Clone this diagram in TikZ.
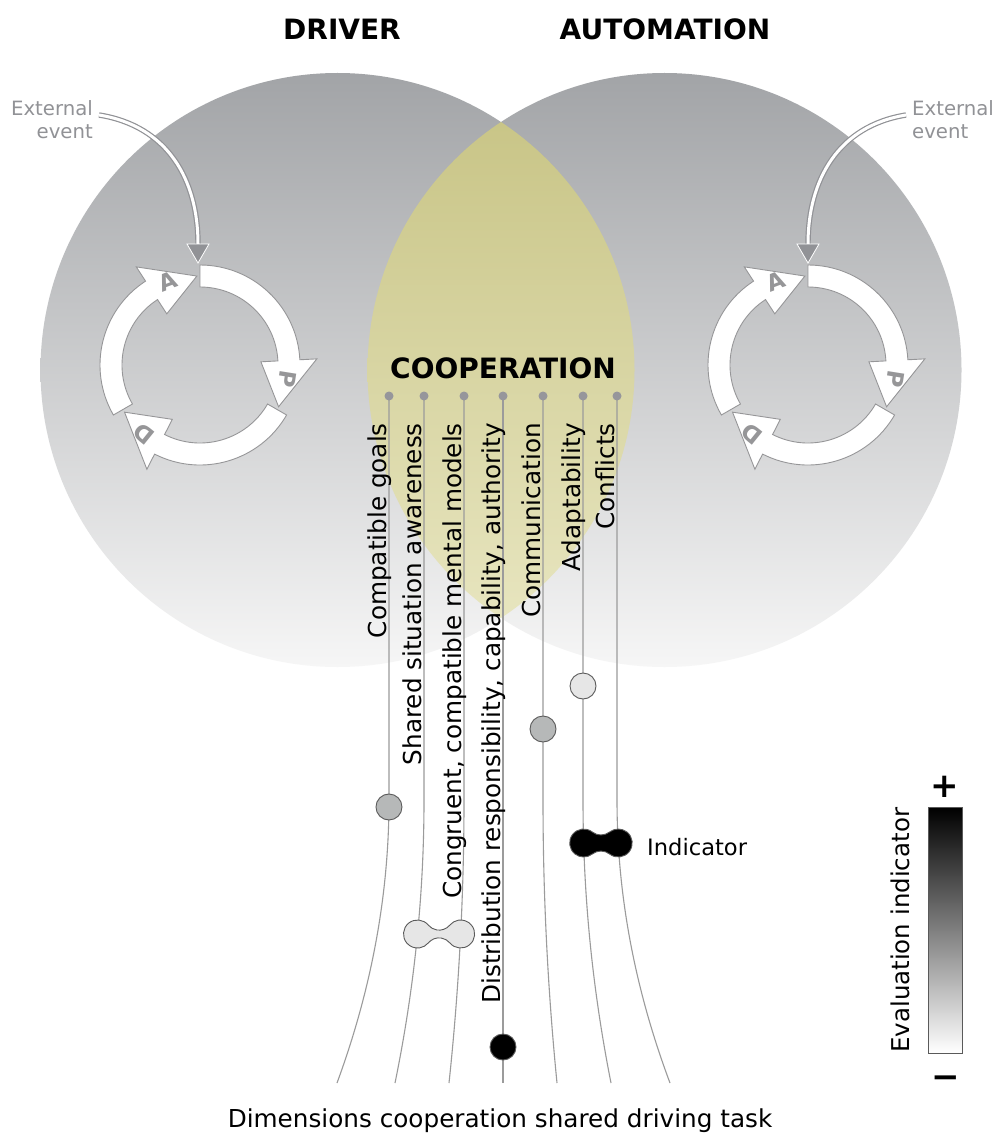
\documentclass[tikz,border=0pt]{standalone}
\usepackage{fontspec}
\setmainfont{DejaVu Sans}
\usetikzlibrary{calc,positioning}

\definecolor{kreisoben}{RGB}{162,164,167}
\definecolor{kreisunten}{RGB}{246,246,246}
\definecolor{linseoben}{RGB}{198,194,130}
\definecolor{linseunten}{RGB}{234,232,196}
\definecolor{ringgrau}{RGB}{150,150,152}
\definecolor{extgrau}{RGB}{145,146,150}
\definecolor{liniengrau}{RGB}{155,155,155}
\definecolor{punktgrau}{RGB}{150,150,155}
\definecolor{mittelgrau}{RGB}{182,184,184}
\definecolor{hellgrau}{RGB}{230,230,230}
\definecolor{markerrand}{RGB}{90,90,90}

%Doppelmarker: zwei Kreise (r=14) mit eingeschnuerter Taille, #1 und #2 Mittelpunkte
\newcommand{\doppelmarker}[3]{%
  \path (#1); \pgfgetlastxy{\xa}{\ya}
  \path (#2); \pgfgetlastxy{\xb}{\yb}
  \pgfmathsetmacro\hd{(\xb-\xa)/2}
  \pgfmathsetmacro\hh{sqrt(28^2-\hd^2)}
  \pgfmathsetmacro\al{atan2(\hh,\hd)}
  \filldraw[marker, fill=#3] ($(#1)+(\al:14)$)
    arc[start angle=\al, end angle=360-\al, radius=14]
    arc[start angle=180-\al, end angle=\al, radius=14]
    arc[start angle=180+\al, end angle=540-\al, radius=14]
    arc[start angle=-\al, end angle=-180+\al, radius=14] -- cycle;
}

\begin{document}
\begin{tikzpicture}[x=1pt,y=1pt,
  titel/.style={anchor=base, inner sep=0pt, font=\fontsize{28}{32}\selectfont\bfseries},
  dimline/.style={draw=liniengrau, line width=1.1pt},
  dimlab/.style={rotate=90, anchor=base east, inner sep=0pt, font=\fontsize{24.7}{30}\selectfont},
  ringpfeil/.style={fill=white, draw=ringgrau, line width=0.9pt},
  ringlab/.style={text=ringgrau, inner sep=0pt, font=\fontsize{23}{26}\selectfont\bfseries},
  exttext/.style={inner sep=0pt, text=extgrau, font=\fontsize{19.7}{23}\selectfont},
  extpfeil/.style={draw=extgrau, double=white, double distance=3pt, line width=1.2pt},
  marker/.style={draw=markerrand, line width=0.9pt}]
\fill[white] (0,0) rectangle (997,-1134);
\useasboundingbox (0,0) rectangle (997,-1134);

%Kreise Fahrer und Automation, Schnittlinse gelb
\coordinate (mFahrer) at (337.5,-370);
\coordinate (mAuto) at (664.5,-370);
\shade[top color=kreisoben, bottom color=kreisunten] (mFahrer) circle[radius=297];
\shade[top color=kreisoben, bottom color=kreisunten] (mAuto) circle[radius=297];
\begin{scope}
  \clip (mFahrer) circle[radius=297];
  \shade[top color=linseoben, bottom color=linseunten] (mAuto) circle[radius=297];
\end{scope}

\node[titel] (fahrer) at (342,-40) {DRIVER};
\node[titel] (auto) at (665,-40) {AUTOMATION};
\node[titel] (koop) at (503,-378) {COOPERATION};

%Regelkreise A-P-D: Band 87 Grad, Spitze 31 Grad, Luecke 2 Grad
\pgfmathsetmacro{\Rout}{100}
\pgfmathsetmacro{\Rin}{78}
\pgfmathsetmacro{\Rmid}{89}
\pgfmathsetmacro{\Rhout}{117}
\pgfmathsetmacro{\Rhin}{61}
\foreach \mx in {200,808}{
\begin{scope}[shift={(\mx,-365)}]
\foreach \s/\lab in {90/P,-30/D,-150/A}{
  \pgfmathsetmacro{\hBase}{\s-87}
  \pgfmathsetmacro{\hTip}{\s-118}
  \pgfmathsetmacro{\hMid}{\s-99}
  \draw[ringpfeil] (\s:\Rout) arc[start angle=\s, end angle=\hBase, radius=\Rout] -- (\hBase:\Rhout) -- (\hTip:\Rmid) -- (\hBase:\Rhin) -- (\hBase:\Rin) arc[start angle=\hBase, end angle=\s, radius=\Rin] -- cycle;
  \node[ringlab, rotate=\hMid-90] at (\hMid:\Rmid) {\lab};
}
\end{scope}
}

%Externe Ereignisse
\node[exttext, anchor=north east, align=right] (extL) at (93,-100) {External\\event};
\node[exttext, anchor=north west, align=left] (extR) at (912,-100) {External\\event};
\coordinate (einL) at (198,-244);
\coordinate (einR) at (808,-244);
\draw[extpfeil] ([xshift=6pt,yshift=-15pt]extL.north east) .. controls (168,-126) and (198,-180) .. (einL);
\draw[extpfeil] ([xshift=-6pt,yshift=-15pt]extR.north west) .. controls (838,-126) and (808,-180) .. (einR);
\foreach \e in {einL,einR}{
  \filldraw[fill=extgrau, draw=white, line width=0.8pt] ($(\e)+(-11,0)$) -- ($(\e)+(11,0)$) -- ($(\e)+(0,-19)$) -- cycle;
}

%Dimensionslinien: oben x, unten x, Bezeichnung
%ab y=800 Parabel bis y=1083, H=283 --> Kontrollpunkte bei H/3
%         y ist linear im Parameter: t=(y-800)/283
\foreach \i/\xo/\xu/\bez in {1/389/337/{Compatible goals},
    2/424/395/{Shared situation awareness},
    3/464/449/{Congruent, compatible mental models},
    4/503/503/{Distribution responsibility, capability, authority},
    5/543/557/{Communication},
    6/583/611/{Adaptability},
    7/617/670/{Conflicts}}{
  \pgfmathsetmacro{\xc}{\xu+2/3*(\xo-\xu)}
  \coordinate (oben\i) at (\xo,-396);
  \coordinate (unten\i) at (\xu,-1083);
  \draw[dimline] (oben\i) -- (\xo,-800) .. controls (\xo,-894.3) and (\xc,-988.7) .. (unten\i)
    coordinate[pos=0.0247] (k\i) coordinate[pos=0.152] (a\i) coordinate[pos=0.4735] (b\i);
  \fill[punktgrau] (oben\i) circle[radius=4.5];
  \node[dimlab] (lab\i) at (\xo-2.5,-423) {\bez};
}

%Indikatoren
\filldraw[marker, fill=mittelgrau] (k1) circle[radius=13];
\filldraw[marker, fill=mittelgrau] (543,-729) circle[radius=13];
\filldraw[marker, fill=hellgrau] (583,-686) circle[radius=13];
\filldraw[marker, fill=black] (503,-1047) circle[radius=13];
\doppelmarker{b2}{b3}{hellgrau}
\doppelmarker{a6}{a7}{black}
\node[anchor=base west, inner sep=0pt, font=\fontsize{22.6}{27}\selectfont] (ind) at (647,-855) {Indicator};

%Bewertungsskala
\shade[top color=black, bottom color=white, draw=markerrand, line width=0.8pt] (928,-807) rectangle (962,-1053);
\node[inner sep=0pt, font=\fontsize{34}{34}\selectfont\bfseries] (plus) at (945,-787) {+};
\node[inner sep=0pt, font=\fontsize{34}{34}\selectfont\bfseries] (minus) at (946,-1082) {−};
\node[rotate=90, anchor=base west, inner sep=0pt, font=\fontsize{24.5}{30}\selectfont] (skala) at (909,-1053) {Evaluation indicator};

\node[anchor=base, inner sep=0pt, font=\fontsize{24.7}{30}\selectfont] (fuss) at (500,-1127) {Dimensions cooperation shared driving task};
\end{tikzpicture}
\end{document}
